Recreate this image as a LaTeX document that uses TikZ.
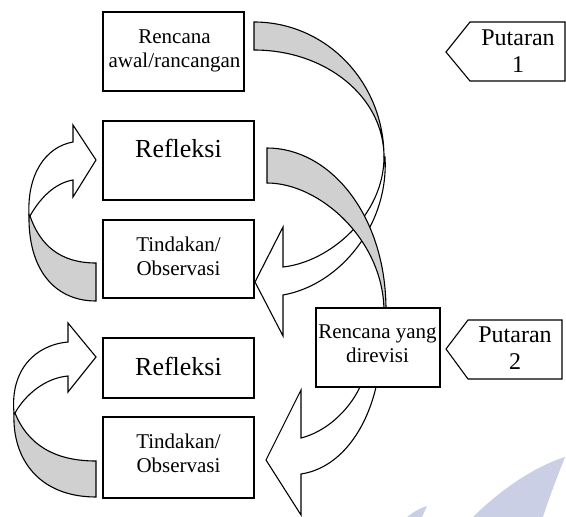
\documentclass[tikz,border=0pt]{standalone}
\usepackage{fontspec}
\setmainfont{Liberation Serif}
\definecolor{bandgray}{RGB}{208,208,208}
\definecolor{wmblue}{RGB}{203,207,229}
\begin{document}
\begin{tikzpicture}[x=1pt,y=-1pt,
  box/.style={draw, line width=1.1pt, fill=white, inner sep=0pt},
  txt/.style={inner sep=0pt, align=center, font=\fontsize{21}{24}\selectfont},
  bigtxt/.style={inner sep=0pt, anchor=base, font=\fontsize{26}{30}\selectfont},
  tagtxt/.style={inner sep=0pt, align=center, font=\fontsize{24}{27}\selectfont},
  band/.style={draw, line width=1.1pt, fill=bandgray},
  front/.style={draw, line width=1.1pt, fill=white},
  tag/.style={draw, line width=1.1pt, fill=white},
  wm/.style={fill=wmblue}]
\useasboundingbox (0,0) rectangle (566,517);

% watermark
\fill[wm] (565,457) .. controls (530,468) and (495,495) .. (473,517) -- (543,517) .. controls (550,495) and (558,475) .. (565,457) -- cycle;
\fill[wm] (427,506) .. controls (418,509) and (412,513) .. (407,517) -- (422,517) -- cycle;

% arrow A : Rencana awal -> Tindakan/Observasi
\draw[band] (254,22) .. controls (326,22) and (384,82) .. (384,157)
  .. controls (384,97) and (326,50) .. (254,50) -- cycle;
\draw[front] (384,157) .. controls (384,215) and (330,262) .. (283,267)
  -- (283,227) -- (255,282) -- (283,336) -- (283,295)
  .. controls (340,285) and (389,225) .. (385,157) -- cycle;

% arrow B : Refleksi -> Rencana yang direvisi -> Tindakan/Observasi
\draw[band] (267,148) .. controls (330,148) and (386,215) .. (386,310)
  -- (384,310) .. controls (383,240) and (320,183) .. (267,183) -- cycle;
\draw[front] (372,330) -- (360,387) .. controls (348,412) and (325,432) .. (301,438)
  -- (301,390) -- (266,460) -- (301,515) -- (301,474)
  .. controls (340,468) and (366,430) .. (376,387) -- (388,330) -- cycle;

% arrow C : Tindakan -> Refleksi (upper)
\draw[band] (29,215) .. controls (28,270) and (55,301) .. (96,301)
  -- (96,263) .. controls (60,263) and (40,245) .. (30,216) -- cycle;
\draw[front] (29,215) .. controls (27,175) and (45,147) .. (73,142)
  -- (73,125) -- (96,160) -- (73,197) -- (73,180)
  .. controls (55,183) and (40,198) .. (30,216) -- cycle;

% arrow D : Tindakan -> Refleksi (lower)
\draw[band] (14,413) .. controls (12,460) and (40,497) .. (96,497)
  -- (96,461) .. controls (55,461) and (28,445) .. (15,413) -- cycle;
\draw[front] (14,413) .. controls (10,370) and (35,345) .. (68,342)
  -- (68,323) -- (96,357) -- (68,392) -- (68,376)
  .. controls (45,378) and (25,395) .. (15,413) -- cycle;

% boxes
\node[box, minimum width=141pt, minimum height=79pt] (b1) at (173.5,51.5) {};
\node[txt] (t1) at (174.5,50.4) {Rencana\\awal/rancangan};

\node[box, minimum width=151pt, minimum height=79pt] (b2) at (178.5,160.5) {};
\node[bigtxt] (t2) at (178.5,157) {Refleksi};

\node[box, minimum width=151pt, minimum height=78pt] (b3) at (178.5,259) {};
\node[txt] (t3) at (178.5,256) {Tindakan/\\Observasi};

\node[box, minimum width=151pt, minimum height=60pt] (b4) at (178.5,368) {};
\node[bigtxt] (t4) at (178.5,375) {Refleksi};

\node[box, minimum width=151pt, minimum height=81pt] (b5) at (178.5,457.5) {};
\node[txt] (t5) at (178.5,453) {Tindakan/\\Observasi};

\node[box, minimum width=124pt, minimum height=79pt] (b6) at (378,347.5) {};
\node[txt] (t6) at (377.5,344) {Rencana yang\\direvisi};

% Putaran tags
\draw[tag] (446,52) -- (470,22) -- (565,22) -- (565,81) -- (470,81) -- cycle;
\node[tagtxt] (p1) at (518,51) {Putaran\\1};
\draw[tag] (446,349) -- (468,320) -- (562,320) -- (562,379) -- (468,379) -- cycle;
\node[tagtxt] (p2) at (515,348) {Putaran\\2};
\end{tikzpicture}
\end{document}
